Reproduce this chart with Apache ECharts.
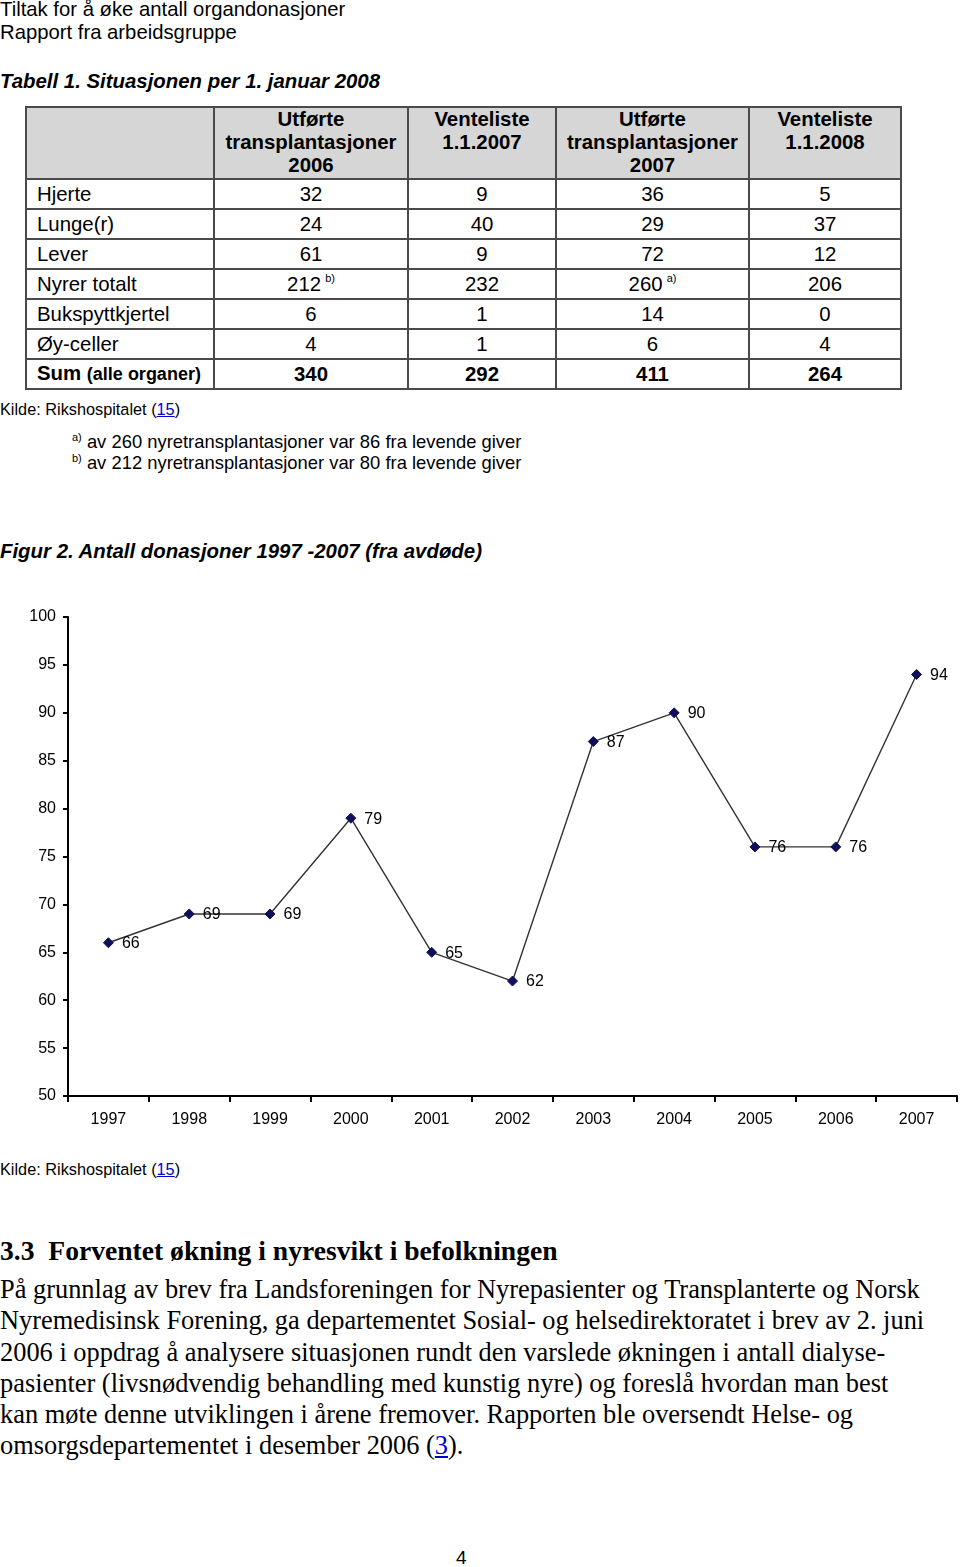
<!DOCTYPE html>
<html>
<head>
<meta charset="utf-8">
<script src="https://cdn.jsdelivr.net/npm/echarts@6/dist/echarts.min.js"></script>
<style>
  body { margin: 0; background: #fff; width: 960px; height: 1567px; position: relative; overflow: hidden; font-family: "Liberation Sans", Arial, sans-serif; color: #000; }
  .abs { position: absolute; white-space: nowrap; }
  .sans { font-family: "Liberation Sans", Arial, sans-serif; }
  .serif { font-family: "Liberation Serif", "Times New Roman", serif; }
  a { color: #0000cc; }
  #tbl { position: absolute; left: 25px; top: 106px; border-collapse: collapse; font-size: 20.4px; }
  #tbl td, #tbl th { border: 2px solid #4a4a4a; padding: 0; height: 28px; line-height: 23px; }
  #tbl th { background: #d6d6d6; font-weight: bold; height: 70px; vertical-align: top; padding-top: 0; }
  #tbl td { text-align: center; }
  #tbl td.name { text-align: left; padding-left: 10px; }
  #tbl sup { font-size: 11px; vertical-align: 9px; line-height: 0; margin-left: 4px; }
  .fn sup { font-size: 11px; vertical-align: 7px; line-height: 0; }
  #chart { position: absolute; left: 0; top: 590px; width: 960px; height: 560px; }
</style>
</head>
<body>
<div class="abs sans" style="left:0;top:-2px;font-size:20.3px;line-height:23px;">Tiltak for å øke antall organdonasjoner<br>Rapport fra arbeidsgruppe</div>
<div class="abs sans" style="left:0;top:70px;font-size:20.4px;font-weight:bold;font-style:italic;">Tabell 1. Situasjonen per 1. januar 2008</div>

<table id="tbl"></table>

<div class="abs sans" style="left:0;top:400px;font-size:16.3px;">Kilde: Rikshospitalet (<a href="#">15</a>)</div>
<div class="abs sans fn" style="left:72px;top:431px;font-size:18.4px;line-height:21px;">
  <sup>a)</sup> av 260 nyretransplantasjoner var 86 fra levende giver<br>
  <sup>b)</sup> av 212 nyretransplantasjoner var 80 fra levende giver
</div>

<div class="abs sans" style="left:0;top:540px;font-size:20.4px;font-weight:bold;font-style:italic;">Figur 2. Antall donasjoner 1997 -2007 (fra avdøde)</div>

<div id="chart"></div>

<div class="abs sans" style="left:0;top:1160px;font-size:16.3px;">Kilde: Rikshospitalet (<a href="#">15</a>)</div>

<div class="abs serif" style="left:0;top:1235px;font-size:27.6px;font-weight:bold;">3.3&nbsp;&nbsp;Forventet økning i nyresvikt i befolkningen</div>
<div class="abs serif" style="left:0;top:1274px;font-size:26.4px;line-height:31.3px;">
På grunnlag av brev fra Landsforeningen for Nyrepasienter og Transplanterte og Norsk<br>
Nyremedisinsk Forening, ga departementet Sosial- og helsedirektoratet i brev av 2. juni<br>
2006 i oppdrag å analysere situasjonen rundt den varslede økningen i antall dialyse-<br>
pasienter (livsnødvendig behandling med kunstig nyre) og foreslå hvordan man best<br>
kan møte denne utviklingen i årene fremover. Rapporten ble oversendt Helse- og<br>
omsorgsdepartementet i desember 2006 (<a href="#">3</a>).
</div>

<div class="abs sans" style="left:456px;top:1547px;font-size:19px;">4</div>

<script>
// Tabell 1
const tableHeaders = ['', 'Utførte<br>transplantasjoner<br>2006', 'Venteliste<br>1.1.2007', 'Utførte<br>transplantasjoner<br>2007', 'Venteliste<br>1.1.2008'];
const colWidths = [188, 194, 148, 193, 152];
const organs = ['Hjerte', 'Lunge(r)', 'Lever', 'Nyrer totalt', 'Bukspyttkjertel', 'Øy-celler'];
const utfort2006 = [32, 24, 61, 212, 6, 4];
const vente2007 = [9, 40, 9, 232, 1, 1];
const utfort2007 = [36, 29, 72, 260, 14, 6];
const vente2008 = [5, 37, 12, 206, 0, 4];
const sums = [340, 292, 411, 264];
const notes = { '3-1': 'b)', '3-3': 'a)' };

// Figur 2
const years = ['1997', '1998', '1999', '2000', '2001', '2002', '2003', '2004', '2005', '2006', '2007'];
const donations = [66, 69, 69, 79, 65, 62, 87, 90, 76, 76, 94];

const tbl = document.getElementById('tbl');
let html = '<tr>' + tableHeaders.map((h, i) => `<th style="width:${colWidths[i] - 2}px">${h}</th>`).join('') + '</tr>';
const cols = [utfort2006, vente2007, utfort2007, vente2008];
organs.forEach((o, r) => {
  html += `<tr><td class="name">${o}</td>`;
  cols.forEach((c, j) => {
    const n = notes[r + '-' + (j + 1)];
    html += `<td>${c[r]}${n ? '<sup>' + n + '</sup>' : ''}</td>`;
  });
  html += '</tr>';
});
html += '<tr><td class="name"><b>Sum</b> <span style="font-size:18px;font-weight:bold">(alle organer)</span></td>' +
  sums.map(s => `<td><b>${s}</b></td>`).join('') + '</tr>';
tbl.innerHTML = html;

const chart = echarts.init(document.getElementById('chart'));
chart.setOption({
  animation: false,
  textStyle: { fontFamily: 'Liberation Sans' },
  grid: { left: 68, top: 27, width: 889, height: 479 },
  xAxis: {
    type: 'category',
    data: years,
    boundaryGap: true,
    axisLine: { lineStyle: { color: '#000', width: 2 } },
    axisTick: { show: true, length: 6, lineStyle: { color: '#000', width: 2 } },
    axisLabel: { color: '#000', fontSize: 16, margin: 16 }
  },
  yAxis: {
    type: 'value',
    min: 50,
    max: 100,
    interval: 5,
    axisLine: { show: true, lineStyle: { color: '#000', width: 2 } },
    axisTick: { show: true, length: 5, lineStyle: { color: '#000', width: 2 } },
    splitLine: { show: false },
    axisLabel: { color: '#000', fontSize: 16, margin: 12 }
  },
  series: [{
    type: 'line',
    data: donations,
    symbol: 'diamond',
    symbolSize: 10,
    itemStyle: { color: '#10105a', borderColor: '#10105a' },
    lineStyle: { color: '#333', width: 1.4 },
    label: { show: true, position: 'right', distance: 8, color: '#000', fontSize: 16, offset: [0, 1] }
  }]
});
</script>
</body>
</html>
